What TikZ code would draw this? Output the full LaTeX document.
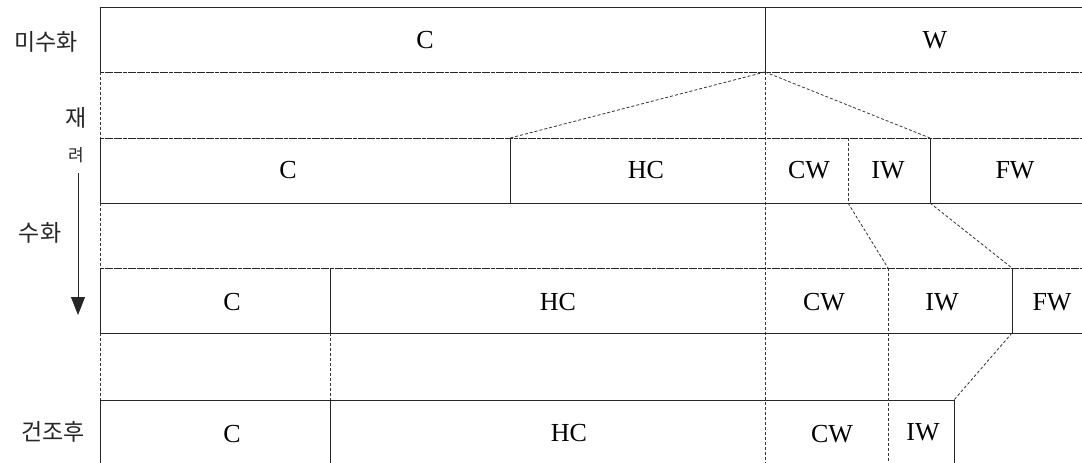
\documentclass[tikz,border=0pt]{standalone}
\usepackage{fontspec}
\setmainfont{Liberation Serif}
\newfontfamily\kr{Noto Sans CJK KR}
\usetikzlibrary{arrows.meta}
\begin{document}
\begin{tikzpicture}[x=1pt,y=-1pt,
 solidline/.style={line width=0.9pt, draw=black!85},
 dashline/.style={line width=0.8pt, draw=black!80, dash pattern=on 3pt off 2pt},
 fineline/.style={line width=0.9pt, draw=black!85, dash pattern=on 4pt off 0.6pt},
 lab/.style={font=\fontsize{26}{28}\selectfont, inner sep=0pt},
 krlab/.style={font=\kr\fontsize{23}{26}\selectfont, inner sep=0pt, text=black!85},
 krsmall/.style={font=\kr\fontsize{17}{20}\selectfont, inner sep=0pt, text=black!85}]
\useasboundingbox (0,0) rectangle (1082,463);
% row 1
\draw[solidline] (100,7) -- (1082,7);
\draw[fineline] (100,72) -- (1082,72);
\draw[solidline] (100,7) -- (100,72);
\draw[solidline] (765,7) -- (765,72);
% row 2
\draw[fineline] (100,138) -- (1082,138);
\draw[solidline] (100,203) -- (1082,203);
\draw[solidline] (100,138) -- (100,203);
\draw[solidline] (510,138) -- (510,203);
\draw[solidline] (930,138) -- (930,203);
% row 3
\draw[fineline] (100,268) -- (1082,268);
\draw[solidline] (100,333) -- (1082,333);
\draw[solidline] (100,268) -- (100,333);
\draw[solidline] (330,268) -- (330,333);
\draw[solidline] (1012,268) -- (1012,333);
% row 4
\draw[solidline] (100,400) -- (954,400);
\draw[solidline] (100,400) -- (100,463);
\draw[solidline] (330,400) -- (330,463);
\draw[solidline] (954,400) -- (954,463);
% named points for dashed connectors
\coordinate (w0) at (765,72);
\coordinate (hc2) at (510,138);
\coordinate (fw2) at (930,138);
\coordinate (iw2b) at (848,203);
\coordinate (fw2b) at (930,203);
\coordinate (iw3) at (888,268);
\coordinate (fw3) at (1012,268);
\coordinate (fw3b) at (1012,333);
\coordinate (end4) at (954,400);
% dashed lines
\draw[dashline] (100,72) -- (100,138);
\draw[dashline] (100,203) -- (100,268);
\draw[dashline] (100,333) -- (100,400);
\draw[dashline] (w0) -- (765,463);
\draw[dashline] (330,333) -- (330,400);
\draw[dashline] (iw3) -- (888,463);
\draw[dashline] (848,138) -- (iw2b);
\draw[dashline] (w0) -- (hc2);
\draw[dashline] (w0) -- (fw2);
\draw[dashline] (iw2b) -- (iw3);
\draw[dashline] (fw2b) -- (fw3);
\draw[dashline] (fw3b) -- (end4);
% labels row 1
\node[lab] (r1c) at (425,40) {C};
\node[lab] (r1w) at (935,40) {W};
% row 2
\node[lab] (r2c) at (288,170) {C};
\node[lab] (r2hc) at (646,170) {HC};
\node[lab] (r2cw) at (809,170) {CW};
\node[lab] (r2iw) at (888,170) {IW};
\node[lab] (r2fw) at (1015,170) {FW};
% row 3
\node[lab] (r3c) at (232,302) {C};
\node[lab] (r3hc) at (558,302) {HC};
\node[lab] (r3cw) at (824,302) {CW};
\node[lab] (r3iw) at (942,302) {IW};
\node[lab] (r3fw) at (1052,302) {FW};
% row 4
\node[lab] (r4c) at (232,434) {C};
\node[lab] (r4hc) at (569,433) {HC};
\node[lab] (r4cw) at (832,434) {CW};
\node[lab] (r4iw) at (923,432) {IW};
% left labels
\node[krlab] (l1) at (46,42) {미수화};
\node[krlab] (l2) at (76,118) {재};
\node[krsmall] (l3) at (76,155) {려};
\node[krlab] (l4) at (40,233) {수화};
\node[krlab] (l5) at (53,432) {건조후};
\coordinate (a0) at (78,173);
\coordinate (a1) at (78,315);
\draw[line width=0.9pt, draw=black!85, -{Triangle[length=18pt,width=14pt]}] (a0) -- (a1);
\end{tikzpicture}
\end{document}
